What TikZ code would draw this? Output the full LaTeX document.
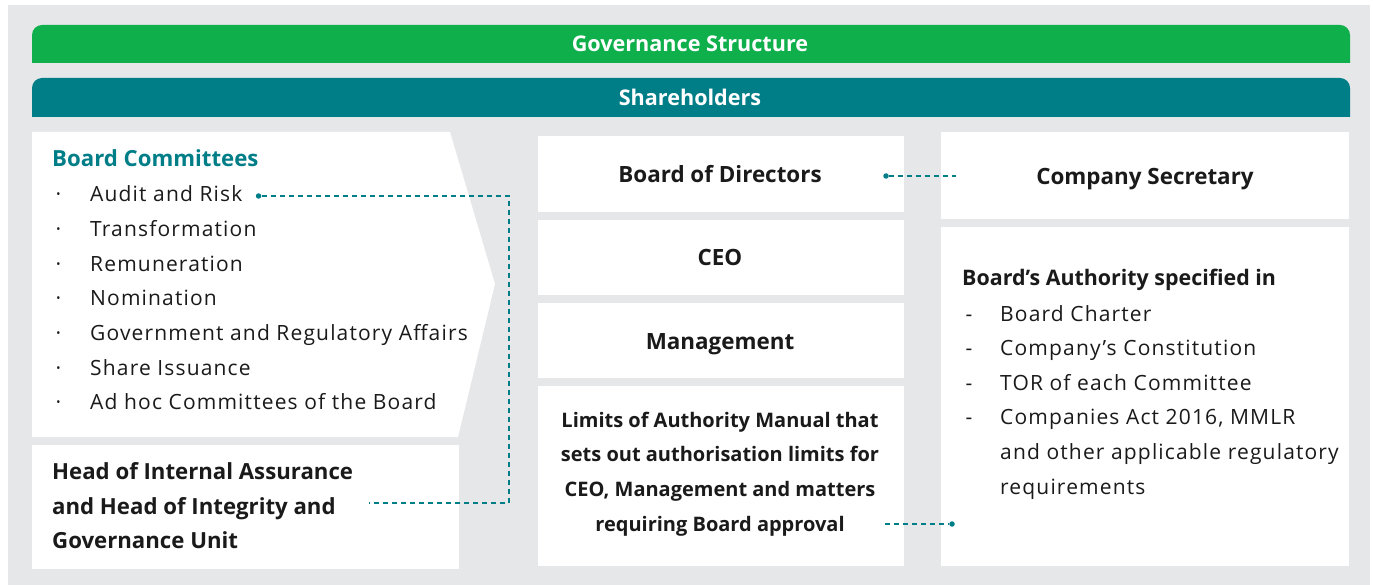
\documentclass[tikz,border=0pt]{standalone}
\usepackage{fontspec}
\setmainfont{Open Sans}
\usetikzlibrary{positioning}
\definecolor{govgreen}{HTML}{0FB04C}
\definecolor{govteal}{HTML}{007E88}
\definecolor{govgrey}{HTML}{E6E7E9}
\definecolor{govtext}{HTML}{1A1A1A}
\tikzset{
  bartext/.style={text=white,font=\fontsize{21.6}{24}\selectfont\bfseries,anchor=base},
  boxtext/.style={text=govtext,font=\fontsize{22.4}{34.6}\selectfont\bfseries,align=center,inner sep=0pt},
  itemtext/.style={text=govtext,font=\fontsize{21}{34.6}\selectfont\addfontfeature{LetterSpace=5.5},anchor=base west,inner sep=0pt},
  link/.style={govteal,line width=1.1pt,dash pattern=on 5pt off 4pt},
  linkdot/.style={circle,fill=govteal,inner sep=0pt,minimum size=5.5pt}
}
\begin{document}
\begin{tikzpicture}[x=1pt,y=-1pt]
  \useasboundingbox (0,0) rectangle (1373,585);
  \fill[govgrey] (8,5) rectangle (1370,585);
  % header bars
  \fill[govgreen] (32,63) [rounded corners=10pt] -- (32,25) -- (1350,25) [sharp corners] -- (1350,63) -- cycle;
  \node[bartext] (gov) at (690,52) {Governance Structure};
  \fill[govteal] (32,117) [rounded corners=10pt] -- (32,78) -- (1350,78) [sharp corners] -- (1350,117) -- cycle;
  \node[bartext] (share) at (690,106) {Shareholders};
  % left column
  \fill[white] (32,132) -- (450,132) -- (495,284) -- (458,437) -- (32,437) -- cycle;
  \node[itemtext,text=govteal,font=\fontsize{22.2}{24}\selectfont\bfseries] (bc) at (52,167) {Board Committees};
  \foreach \txt [count=\i] in {Audit and Risk,Transformation,Remuneration,Nomination,Government and Regulatory Affairs,Share Issuance,Ad hoc Committees of the Board}{
    \node[itemtext] at (52,{202+34.6*(\i-1)}) {\,·};
    \node[itemtext] (bc\i) at (90,{202+34.6*(\i-1)}) {\txt};
  }
  \fill[white] (32,445) rectangle (459,569);
  \node[boxtext,font=\fontsize{22.2}{34.6}\selectfont\bfseries,align=left,anchor=west] (head) at (52,506) {Head of Internal Assurance\\and Head of Integrity and\\Governance Unit};
  % middle column
  \fill[white] (538,136) rectangle (904,212);
  \node[boxtext,anchor=base] (bod) at (720,183) {Board of Directors};
  \fill[white] (538,220) rectangle (904,295);
  \node[boxtext,anchor=base] (ceo) at (720,266) {CEO};
  \fill[white] (538,303) rectangle (904,378);
  \node[boxtext,anchor=base] (mgmt) at (720,349) {Management};
  \fill[white] (538,386) rectangle (904,566);
  \node[boxtext,font=\fontsize{20}{34.6}\selectfont\bfseries] (loa) at (720,474) {Limits of Authority Manual that\\sets out authorisation limits for\\CEO, Management and matters\\requiring Board approval};
  % right column
  \fill[white] (941,132) rectangle (1349,219);
  \node[boxtext,anchor=base] (cosec) at (1145,185) {Company Secretary};
  \fill[white] (941,227) rectangle (1349,566);
  \node[itemtext,font=\fontsize{21.4}{24}\selectfont\bfseries] (auth) at (962,286) {Board’s Authority specified in};
  \foreach \txt [count=\i] in {Board Charter,Company’s Constitution,TOR of each Committee,{Companies Act 2016, MMLR}}{
    \node[itemtext] at (962,{321+34.6*(\i-1)}) {\,-};
    \node[itemtext] (ba\i) at (1000,{321+34.6*(\i-1)}) {\txt};
  }
  \node[itemtext] (ba5) at (1000,459) {and other applicable regulatory};
  \node[itemtext] (ba6) at (1000,494) {requirements};
  % connectors
  \node[linkdot] (dotaudit) at ([xshift=16pt,yshift=6pt]bc1.base east) {};
  \coordinate (bendbot) at (509,503);
  \coordinate (headend) at (369,503);
  \draw[link] (dotaudit) -| (bendbot) -- (headend);
  \node[linkdot] (dotbod) at (886,176) {};
  \coordinate (cosecend) at (956,176);
  \draw[link] (dotbod) -- (cosecend);
  \coordinate (loaend) at (885,524);
  \node[linkdot] (dotauth) at (952,524) {};
  \draw[link] (loaend) -- (dotauth);
\end{tikzpicture}
\end{document}
